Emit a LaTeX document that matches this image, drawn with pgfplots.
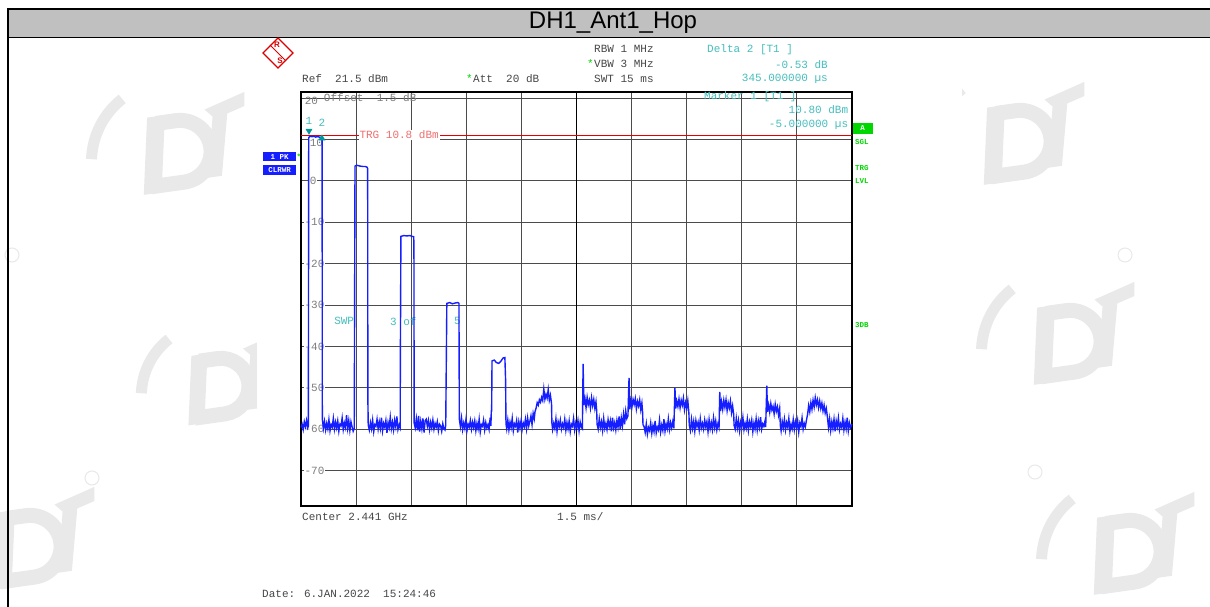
\documentclass[border=0pt]{standalone}
\usepackage{pgfplots}
\pgfplotsset{compat=1.18}
\usepackage{fontspec}
\setmainfont{Liberation Sans}
\newfontfamily\mono{Liberation Mono}
\definecolor{rsgray}{RGB}{70,70,70}
\definecolor{rscyan}{RGB}{70,190,190}
\definecolor{rsred}{RGB}{240,110,110}
\definecolor{rsgreen}{RGB}{0,215,0}
\definecolor{rsblue}{RGB}{20,30,255}
\definecolor{gridc}{RGB}{75,75,75}
\definecolor{tickc}{RGB}{125,125,125}
\definecolor{band}{RGB}{192,192,192}
\definecolor{wm}{RGB}{233,233,233}
\newcommand{\rsf}{\mono\fontsize{11}{11}\selectfont}
\newcommand{\smf}{\mono\bfseries\fontsize{7.5}{7.5}\selectfont}
\newcommand{\tx}[4][west]{\node[anchor=#1,inner sep=0pt,font=\rsf] at (#2pt,607pt-#3pt) {#4};}
\newcommand{\gx}[3]{\node[anchor=west,inner sep=0pt,font=\smf,text=rsgreen] at (#1pt,607pt-#2pt) {#3};}
% faint logo: x, y (page pixels from top-left), scale
\newcommand{\logo}[3]{%
\begin{scope}[shift={(#1pt,607pt-#2pt)},scale=#3,rotate=8]
\fill[wm] (-52pt,-38pt) -- (-34pt,-38pt) -- (-20pt,38pt) -- (-38pt,38pt) -- cycle;
\draw[wm,line width=15pt] (-30pt,31pt) -- (-10pt,31pt) arc[start angle=90,end angle=-90,radius=31pt] -- (-44pt,-31pt);
\draw[wm,line width=11pt] (-60pt,60pt) arc[start angle=120,end angle=170,radius=80pt];
\fill[wm] (20pt,38pt) -- (62pt,50pt) -- (60pt,36pt) -- (42pt,31pt) -- (28pt,-30pt) -- (14pt,-30pt) -- (27pt,30pt) -- cycle;
\end{scope}}
\begin{document}
\begin{tikzpicture}
\path[use as bounding box] (0pt,0pt) rectangle (1210pt,607pt);
\fill[white] (0pt,0pt) rectangle (1210pt,607pt);
% faint watermarks
\logo{190}{150}{1}
\logo{230}{385}{0.9}
\logo{40}{545}{1}
\logo{1030}{140}{1}
\logo{1080}{340}{1}
\logo{1140}{550}{1}
\draw[wm,line width=1pt] (12pt,607pt-255pt) circle (7pt);
\draw[wm,line width=1pt] (1125pt,607pt-255pt) circle (7pt);
\draw[wm,line width=1pt] (92pt,607pt-478pt) circle (7pt);
\draw[wm,line width=1pt] (1035pt,607pt-472pt) circle (7pt);
% screenshot area
\fill[white] (257pt,0pt) rectangle (962pt,569pt);
% title band
\fill[band] (8pt,570pt) rectangle (1210pt,597pt);
\draw[black,line width=2.2pt] (8pt,598pt) -- (1210pt,598pt);
\draw[black,line width=2pt] (8.2pt,0pt) -- (8.2pt,599pt);
\draw[black,line width=1.3pt] (8pt,569.5pt) -- (1210pt,569.5pt);
\node[font=\fontsize{24}{24}\selectfont] at (613pt,584pt) {DH1\_Ant1\_Hop};
% R&S logo
\draw[red!85!black,line width=1.1pt] (278pt,607pt-38pt) -- (293pt,607pt-53pt) -- (278pt,607pt-68pt) -- (263pt,607pt-53pt) -- cycle;
\draw[red!85!black,line width=0.8pt] (270pt,607pt-45pt) -- (286pt,607pt-61pt);
\node[text=red!85!black,font=\bfseries\fontsize{8}{8}\selectfont,inner sep=0pt] at (277pt,607pt-45pt) {R};
\node[text=red!85!black,font=\bfseries\fontsize{8}{8}\selectfont,inner sep=0pt] at (280pt,607pt-61pt) {S};
% header texts
\tx{594}{49}{\color{rsgray}RBW 1 MHz}
\tx{587}{64}{\color{rsgreen}*}
\tx{594}{64}{\color{rsgray}VBW 3 MHz}
\tx{594}{79}{\color{rsgray}SWT 15 ms}
\tx{302}{79}{\color{rsgray}Ref\ \ 21.5 dBm}
\tx{466}{79}{\color{rsgreen}*}
\tx{473}{79}{\color{rsgray}Att\ \ 20 dB}
\tx{707}{50}{\color{rscyan}Delta 2 [T1 ]}
\tx[east]{828}{65}{\color{rscyan}-0.53 dB}
\tx[east]{828}{79}{\color{rscyan}345.000000 µs}
% side boxes
\fill[rsblue] (263pt,607pt-152pt) rectangle (296pt,607pt-161.5pt);
\node[text=white,font=\smf,inner sep=0pt] at (279.5pt,607pt-157pt) {1 PK};
\fill[rsblue] (263pt,607pt-165pt) rectangle (296pt,607pt-175pt);
\node[text=white,font=\smf,inner sep=0pt] at (279.5pt,607pt-170pt) {CLRWR};
\gx{296.5}{157}{*}
\fill[rsgreen] (852pt,607pt-123pt) rectangle (873pt,607pt-134pt);
\node[text=white,font=\smf,inner sep=0pt] at (862.5pt,607pt-128.5pt) {A};
\gx{855}{142}{SGL}
\gx{855}{168}{TRG}
\gx{855}{181}{LVL}
\gx{855}{325}{3DB}
\begin{axis}[at={(301pt,101.3pt)},anchor=south west,width=551pt,height=413.7pt,scale only axis,
  xmin=0,xmax=15,ymin=-78.5,ymax=21.5,
  xtick={1.5,3,4.5,6,7.5,9,10.5,12,13.5},ytick={-70,-60,-50,-40,-30,-20,-10,0,10,20},
  xticklabels={},yticklabels={},grid=major,major tick length=0pt,
  major grid style={gridc,line width=0.9pt},
  axis line style={black,line width=1.7pt},clip=false]
\draw[black,line width=1.6pt] (axis cs:7.5,-78.5) -- (axis cs:7.5,21.5);
\draw[red!90!black,line width=0.9pt] (axis cs:0,11.1) -- (axis cs:15,11.1);
\node[anchor=west,inner sep=1pt,fill=white,font=\rsf,text=rsred] at (axis cs:1.56,11.1) {TRG 10.8 dBm};
\node[anchor=west,inner sep=0pt,font=\rsf,text=tickc] at (axis cs:0.62,20.2) {Offset\ \ 1.5 dB};
\node[anchor=west,inner sep=0pt,font=\rsf,text=tickc] at (axis cs:0.10,19.4) {20};
\node[anchor=west,inner sep=0.5pt,font=\rsf,text=tickc,fill=white] at (axis cs:0.22,9.3) {10};
\node[anchor=west,inner sep=0.5pt,font=\rsf,text=tickc,fill=white] at (axis cs:0.22,0) {0};
\node[anchor=west,inner sep=0.5pt,font=\rsf,text=tickc,fill=white] at (axis cs:0.08,-10) {-10};
\node[anchor=west,inner sep=0.5pt,font=\rsf,text=tickc,fill=white] at (axis cs:0.08,-20) {-20};
\node[anchor=west,inner sep=0.5pt,font=\rsf,text=tickc,fill=white] at (axis cs:0.08,-30) {-30};
\node[anchor=west,inner sep=0.5pt,font=\rsf,text=tickc,fill=white] at (axis cs:0.08,-40) {-40};
\node[anchor=west,inner sep=0.5pt,font=\rsf,text=tickc,fill=white] at (axis cs:0.08,-50) {-50};
\node[anchor=west,inner sep=0.5pt,font=\rsf,text=tickc,fill=white] at (axis cs:0.08,-60) {-60};
\node[anchor=west,inner sep=0.5pt,font=\rsf,text=tickc,fill=white] at (axis cs:0.08,-70) {-70};
\node[anchor=west,inner sep=0pt,font=\rsf,text=rscyan] at (axis cs:10.97,20.3) {Marker 1 [T1 ]};
\node[anchor=east,inner sep=0pt,font=\rsf,text=rscyan] at (axis cs:14.9,17.2) {10.80 dBm};
\node[anchor=east,inner sep=0pt,font=\rsf,text=rscyan] at (axis cs:14.9,13.6) {-5.000000 µs};
\node[anchor=west,inner sep=0pt,font=\rsf,text=rscyan] at (axis cs:0.90,-33.9) {SWP};
\node[anchor=west,inner sep=0pt,font=\rsf,text=rscyan] at (axis cs:2.42,-33.9) {3 of};
\node[anchor=west,inner sep=0pt,font=\rsf,text=rscyan] at (axis cs:4.16,-33.9) {5};
\addplot[rsblue,line width=1.4pt] table[row sep=\\] {x y\\
0 -59.6\\0.03 -58.8\\0.06 -60.1\\0.09 -58.2\\0.12 -59.4\\0.15 -57.9\\0.18 -59.7\\0.20 -59.3\\
0.21 10.5\\0.25 10.8\\0.30 10.7\\0.35 10.8\\0.40 10.6\\0.45 10.7\\0.50 10.6\\0.55 10.5\\0.575 10.4\\0.58 -57.5\\
0.61 -59.8\\0.64 -58.1\\0.67 -60.2\\0.70 -58.6\\0.73 -59.9\\0.76 -57.7\\0.79 -60.4\\0.82 -58.9\\0.85 -59.5\\0.88 -57.4\\0.91 -60.0\\0.94 -58.3\\0.97 -59.7\\1.00 -58.0\\1.03 -60.5\\1.06 -58.8\\1.09 -59.2\\1.12 -57.3\\1.15 -60.1\\1.18 -58.5\\1.21 -59.6\\1.24 -56.6\\1.27 -59.8\\1.30 -57.9\\1.33 -60.3\\1.36 -58.2\\1.39 -59.4\\1.42 -60.5\\1.45 -59.8\\
1.47 3.6\\1.52 3.8\\1.60 3.6\\1.68 3.5\\1.75 3.5\\1.80 3.3\\1.815 3.0\\1.82 -52.5\\1.83 -59.0\\
1.86 -60.2\\1.89 -58.4\\1.92 -59.9\\1.95 -57.8\\1.98 -60.6\\2.01 -58.9\\2.04 -59.3\\2.07 -57.6\\2.10 -60.0\\2.13 -58.2\\2.16 -59.8\\2.19 -57.2\\2.22 -60.4\\2.25 -58.6\\2.28 -59.5\\2.31 -57.9\\2.34 -60.9\\2.37 -58.4\\2.40 -59.6\\2.43 -57.1\\2.46 -59.9\\2.49 -58.3\\2.52 -60.2\\2.55 -57.8\\2.58 -59.4\\2.61 -56.9\\2.64 -60.1\\2.67 -59.0\\2.70 -59.7\\
2.705 -42.6\\2.72 -13.4\\2.80 -13.2\\2.88 -13.3\\2.96 -13.2\\3.03 -13.4\\3.07 -13.5\\3.075 -19.1\\3.08 -58.5\\
3.11 -59.7\\3.14 -57.5\\3.17 -60.3\\3.20 -56.8\\3.23 -60.6\\3.26 -58.1\\3.29 -59.9\\3.32 -57.4\\3.35 -60.8\\3.38 -58.0\\3.41 -57.6\\3.44 -59.3\\3.47 -57.9\\3.50 -60.1\\3.53 -58.3\\3.56 -59.7\\3.59 -57.8\\3.62 -60.0\\3.65 -58.6\\3.68 -59.5\\3.71 -58.2\\3.74 -60.4\\3.77 -58.8\\3.80 -59.2\\3.83 -60.5\\3.86 -58.7\\3.89 -59.9\\3.92 -60.2\\
3.94 -59.0\\3.95 -49.0\\3.97 -29.6\\4.05 -29.4\\4.12 -29.7\\4.20 -29.5\\4.27 -29.4\\4.30 -29.6\\4.31 -57.5\\
4.34 -59.4\\4.37 -57.3\\4.40 -60.1\\4.43 -58.5\\4.46 -59.8\\4.49 -57.7\\4.52 -60.3\\4.55 -58.8\\4.58 -59.5\\4.61 -57.9\\4.64 -60.0\\4.67 -58.3\\4.70 -59.6\\4.73 -58.0\\4.76 -60.4\\4.79 -58.6\\4.82 -59.9\\4.85 -57.6\\4.88 -60.7\\4.91 -58.9\\4.94 -59.3\\4.97 -57.8\\5.00 -60.2\\5.03 -58.4\\5.06 -59.7\\5.09 -58.9\\5.12 -60.1\\5.15 -57.2\\5.17 -59.2\\
5.18 -55.6\\5.19 -55.6\\5.20 -43.5\\5.26 -43.3\\5.32 -43.9\\5.38 -44.1\\5.44 -43.6\\5.50 -42.8\\5.55 -42.7\\5.57 -48.2\\5.58 -58.6\\
5.60 -59.9\\5.63 -57.8\\5.66 -60.2\\5.69 -58.3\\5.72 -59.6\\5.75 -57.4\\5.78 -60.4\\5.81 -58.7\\5.84 -59.3\\5.87 -57.9\\5.90 -60.8\\5.93 -58.2\\5.96 -59.7\\5.99 -58.0\\6.02 -60.1\\6.05 -58.5\\6.08 -59.4\\6.11 -57.6\\6.14 -59.9\\6.17 -57.3\\6.20 -59.2\\6.23 -58.1\\6.26 -56.8\\6.29 -58.9\\6.32 -56.2\\6.35 -57.5\\
6.37 -55.8\\6.40 -54.9\\6.43 -53.6\\6.46 -54.2\\6.49 -52.9\\6.52 -53.5\\6.55 -52.3\\6.58 -53.1\\6.61 -50.3\\6.64 -52.8\\6.67 -51.6\\6.70 -52.5\\6.73 -50.4\\6.76 -53.0\\6.79 -51.8\\6.82 -53.8\\6.83 -58.5\\
6.85 -60.1\\6.88 -58.6\\6.91 -59.8\\6.94 -57.5\\6.97 -60.5\\7.00 -58.2\\7.03 -59.4\\7.06 -57.8\\7.09 -60.0\\7.12 -58.7\\7.15 -59.6\\7.18 -57.6\\7.21 -60.3\\7.24 -58.4\\7.27 -59.9\\7.30 -58.0\\7.33 -60.6\\7.36 -58.8\\7.39 -59.3\\7.42 -57.4\\7.45 -60.2\\7.48 -58.5\\7.51 -59.7\\7.54 -57.9\\7.57 -60.4\\7.60 -58.3\\7.63 -59.5\\7.66 -59.9\\
7.68 -44.2\\7.70 -54.2\\7.73 -52.6\\7.76 -54.8\\7.79 -52.3\\7.82 -54.1\\7.85 -53.0\\7.88 -54.9\\7.91 -52.4\\7.94 -54.3\\7.97 -52.8\\8.00 -55.0\\8.03 -53.4\\8.05 -55.6\\8.06 -58.8\\
8.09 -60.0\\8.12 -57.5\\8.15 -59.6\\8.18 -58.2\\8.21 -60.3\\8.24 -57.4\\8.27 -59.8\\8.30 -58.6\\8.33 -60.1\\8.36 -57.7\\8.39 -59.4\\8.42 -58.0\\8.45 -60.5\\8.48 -57.2\\8.51 -59.7\\8.54 -58.4\\8.57 -60.2\\8.60 -57.9\\8.63 -59.5\\8.66 -56.9\\8.69 -60.0\\8.72 -57.3\\8.75 -59.2\\8.78 -56.4\\8.81 -58.8\\8.84 -55.6\\8.87 -57.4\\8.90 -56.8\\
8.93 -47.6\\8.95 -55.2\\8.98 -53.1\\9.01 -54.6\\9.04 -52.8\\9.07 -54.0\\9.10 -52.6\\9.13 -55.1\\9.16 -53.3\\9.19 -54.4\\9.22 -52.9\\9.25 -55.3\\9.28 -53.7\\9.30 -56.0\\9.31 -58.9\\
9.34 -59.4\\9.37 -60.8\\9.40 -58.7\\9.43 -61.2\\9.46 -59.6\\9.49 -60.4\\9.52 -58.5\\9.55 -61.0\\9.58 -59.2\\9.61 -60.6\\9.64 -58.0\\9.67 -60.9\\9.70 -59.5\\9.73 -60.2\\9.76 -57.8\\9.79 -60.7\\9.82 -59.0\\9.85 -60.3\\9.88 -57.6\\9.91 -60.5\\9.94 -58.8\\9.97 -59.9\\10.00 -57.5\\10.03 -60.1\\10.06 -58.4\\10.09 -59.7\\10.12 -58.2\\10.15 -59.8\\
10.18 -50.0\\10.20 -55.0\\10.23 -53.2\\10.26 -54.5\\10.29 -52.7\\10.32 -54.8\\10.35 -53.0\\10.38 -54.2\\10.41 -52.5\\10.44 -55.3\\10.47 -53.6\\10.50 -54.9\\10.53 -53.1\\10.56 -56.2\\10.57 -59.0\\
10.60 -60.3\\10.63 -57.6\\10.66 -59.8\\10.69 -58.1\\10.72 -60.5\\10.75 -57.9\\10.78 -59.4\\10.81 -58.3\\10.84 -60.2\\10.87 -57.5\\10.90 -59.7\\10.93 -58.6\\10.96 -60.0\\10.99 -57.8\\11.02 -59.5\\11.05 -58.2\\11.08 -60.6\\11.11 -57.7\\11.14 -59.9\\11.17 -58.4\\11.20 -60.1\\11.23 -57.3\\11.26 -59.6\\11.29 -58.0\\11.32 -60.2\\11.35 -58.7\\11.38 -59.6\\
11.40 -51.0\\11.42 -55.6\\11.45 -53.4\\11.48 -55.2\\11.51 -53.0\\11.54 -54.7\\11.57 -52.9\\11.60 -55.5\\11.63 -53.6\\11.66 -54.9\\11.69 -53.2\\11.72 -56.0\\11.75 -54.4\\11.78 -56.5\\11.79 -59.1\\
11.82 -60.0\\11.85 -57.4\\11.88 -59.7\\11.91 -57.9\\11.94 -60.4\\11.97 -58.3\\12.00 -59.5\\12.03 -57.2\\12.06 -60.1\\12.09 -58.6\\12.12 -59.8\\12.15 -57.6\\12.18 -60.3\\12.21 -58.2\\12.24 -59.4\\12.27 -57.8\\12.30 -60.6\\12.33 -58.5\\12.36 -59.9\\12.39 -57.5\\12.42 -60.2\\12.45 -58.0\\12.48 -59.6\\12.51 -57.1\\12.54 -60.0\\12.57 -58.7\\12.60 -59.3\\12.63 -58.1\\12.65 -59.5\\
12.68 -49.5\\12.70 -55.8\\12.73 -54.1\\12.76 -55.9\\12.79 -53.8\\12.82 -55.4\\12.85 -54.5\\12.88 -56.3\\12.91 -54.0\\12.94 -55.7\\12.97 -54.6\\13.00 -56.6\\13.03 -55.0\\13.04 -57.2\\13.05 -59.2\\
13.07 -60.4\\13.10 -58.1\\13.13 -59.7\\13.16 -57.6\\13.19 -60.2\\13.22 -58.4\\13.25 -59.5\\13.28 -57.4\\13.31 -60.5\\13.34 -58.8\\13.37 -59.9\\13.40 -57.7\\13.43 -60.1\\13.46 -58.2\\13.49 -59.6\\13.52 -57.9\\13.55 -60.7\\13.58 -58.5\\13.61 -59.3\\13.64 -57.3\\13.67 -60.0\\13.70 -58.6\\13.73 -59.4\\13.76 -57.8\\
13.79 -56.5\\13.82 -54.3\\13.85 -55.8\\13.88 -53.6\\13.91 -55.2\\13.94 -53.0\\13.97 -54.6\\14.00 -52.4\\14.03 -54.1\\14.06 -52.9\\14.09 -54.8\\14.12 -53.2\\14.15 -55.0\\14.18 -53.7\\14.21 -55.6\\14.24 -54.2\\14.27 -56.1\\14.30 -55.0\\14.33 -57.0\\
14.36 -59.6\\14.39 -57.5\\14.42 -60.3\\14.45 -58.2\\14.48 -59.8\\14.51 -57.6\\14.54 -60.5\\14.57 -58.0\\14.60 -59.4\\14.63 -57.3\\14.66 -60.1\\14.69 -58.7\\14.72 -59.6\\14.75 -57.4\\14.78 -60.2\\14.81 -58.3\\14.84 -59.9\\14.87 -57.2\\14.90 -60.4\\14.93 -58.5\\14.96 -59.6\\15.00 -58.8\\
};
% markers
\addplot[only marks,mark=triangle*,mark size=3.5pt,color=teal!80!cyan,mark options={rotate=180}] coordinates {(0.218,12.1)};
\addplot[only marks,mark=triangle*,mark size=3.5pt,color=teal!80!cyan] coordinates {(0.57,10.3)};
\node[font=\rsf,text=rscyan,inner sep=0pt] at (axis cs:0.218,14.6) {1};
\node[font=\rsf,text=rscyan,inner sep=0pt] at (axis cs:0.57,14.0) {2};
\end{axis}
\tx{302}{517}{\color{rsgray}Center 2.441 GHz}
\tx{557}{517}{\color{rsgray}1.5 ms/}
\tx{262}{594}{\color{rsgray}Date: 6.JAN.2022\ \ 15:24:46}
\end{tikzpicture}
\end{document}
